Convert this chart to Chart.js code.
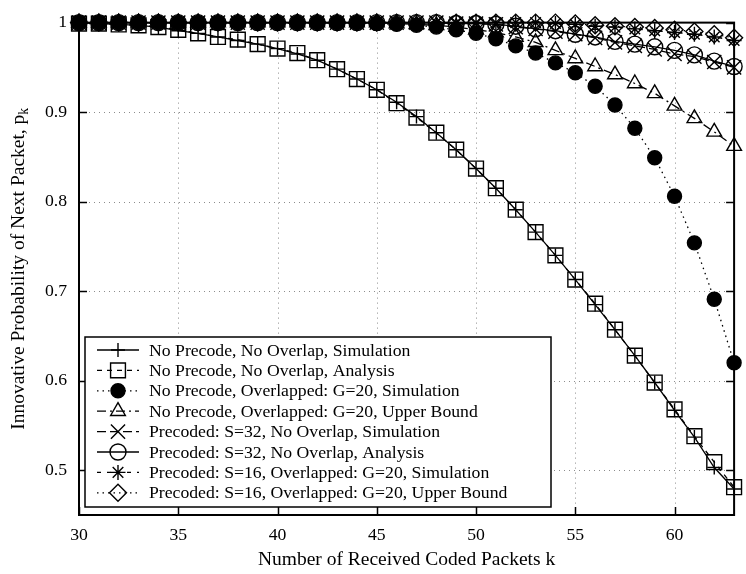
<!DOCTYPE html>
<html>
<head>
<meta charset="utf-8">
<script src="https://cdn.jsdelivr.net/npm/chart.js@4.4.1/dist/chart.umd.min.js"></script>
<style>
  html, body { margin: 0; padding: 0; background: #ffffff; }
  #wrap { width: 746px; height: 574px; }
</style>
</head>
<body>
<div id="wrap"><canvas id="main-chart" width="746" height="574"></canvas></div>
<script>
const ks = [30, 31, 32, 33, 34, 35, 36, 37, 38, 39, 40, 41, 42, 43, 44, 45, 46,
  47, 48, 49, 50, 51, 52, 53, 54, 55, 56, 57, 58, 59, 60, 61, 62, 63];

const noOverlapSim = [1.000, 0.999, 0.998, 0.997, 0.995, 0.991, 0.988, 0.984, 0.980, 0.976,
  0.971, 0.965, 0.958, 0.948, 0.937, 0.925, 0.911, 0.895, 0.877, 0.858,
  0.837, 0.815, 0.791, 0.766, 0.740, 0.713, 0.685, 0.657, 0.628, 0.598,
  0.567, 0.537, 0.503, 0.479];
const noOverlapAna = [0.999, 0.999, 0.998, 0.997, 0.995, 0.992, 0.988, 0.984, 0.981, 0.976,
  0.971, 0.966, 0.958, 0.948, 0.937, 0.925, 0.910, 0.894, 0.877, 0.858,
  0.837, 0.815, 0.791, 0.766, 0.740, 0.713, 0.686, 0.657, 0.628, 0.598,
  0.568, 0.538, 0.509, 0.481];
const overlapSim = [1, 1, 1, 1, 1, 1, 1, 1, 1, 1, 1, 1, 1, 1, 1,
  0.999, 0.998, 0.997, 0.995, 0.992, 0.988, 0.982, 0.974, 0.966, 0.955,
  0.944, 0.929, 0.908, 0.882, 0.849, 0.806, 0.754, 0.691, 0.620];
const overlapBound = [1, 1, 1, 1, 1, 1, 1, 1, 1, 1, 1, 1, 1, 1, 1, 1,
  0.999, 0.998, 0.997, 0.995, 0.992, 0.989, 0.984, 0.978, 0.969, 0.960,
  0.951, 0.942, 0.932, 0.921, 0.907, 0.893, 0.878, 0.862];
const precodedSim = [1, 1, 1, 1, 1, 1, 1, 1, 1, 1, 1, 1, 1, 1, 1, 1, 1, 1, 1,
  0.999, 0.999, 0.998, 0.995, 0.993, 0.990, 0.987, 0.983, 0.978, 0.974,
  0.970, 0.965, 0.962, 0.956, 0.950];
const precodedAna = [1, 1, 1, 1, 1, 1, 1, 1, 1, 1, 1, 1, 1, 1, 1, 1, 1, 1, 1,
  0.999, 0.999, 0.998, 0.996, 0.993, 0.991, 0.987, 0.984, 0.979, 0.976,
  0.973, 0.969, 0.964, 0.957, 0.951];
const pre16Sim = [1, 1, 1, 1, 1, 1, 1, 1, 1, 1, 1, 1, 1, 1, 1, 1, 1, 1, 1, 1, 1, 1, 1, 1,
  0.999, 0.998, 0.996, 0.995, 0.993, 0.991, 0.989, 0.987, 0.984, 0.980];
const pre16Bound = [1, 1, 1, 1, 1, 1, 1, 1, 1, 1, 1, 1, 1, 1, 1, 1, 1, 1, 1, 1, 1, 1, 1, 1, 1,
  0.999, 0.997, 0.996, 0.995, 0.994, 0.992, 0.990, 0.987, 0.983];

const seriesLabels = [
  "No Precode, No Overlap, Simulation",
  "No Precode, No Overlap, Analysis",
  "No Precode, Overlapped: G=20, Simulation",
  "No Precode, Overlapped: G=20, Upper Bound",
  "Precoded: S=32, No Overlap, Simulation",
  "Precoded: S=32, No Overlap, Analysis",
  "Precoded: S=16, Overlapped: G=20, Simulation",
  "Precoded: S=16, Overlapped: G=20, Upper Bound",
];

const xTicks = [30, 35, 40, 45, 50, 55, 60];
const yTicks = [0.5, 0.6, 0.7, 0.8, 0.9, 1];

const FONT = "'Liberation Serif', 'Times New Roman', serif";
const FONT_SIZE = 17.7;
const TITLE_SIZE = 19.5;

// line style + marker of each curve (gnuplot-ish)
const styles = [
  { dash: [], point: "cross", r: 7, fill: "rgba(0,0,0,0)" },
  { dash: [5, 5], point: "rect", r: 10.5, fill: "rgba(0,0,0,0)" },
  { dash: [1.5, 4], point: "circle", r: 7, fill: "#000" },
  { dash: [9, 4, 2, 4], point: "triangle", r: 8.5, fill: "rgba(0,0,0,0)" },
  { dash: [9, 4], point: "crossRot", r: 10, fill: "rgba(0,0,0,0)" },
  { dash: [], point: "circle", r: 8, fill: "rgba(0,0,0,0)" },
  { dash: [4, 6], point: "star", r: 7.5, fill: "rgba(0,0,0,0)" },
  { dash: [1.5, 4], point: "rectRot", r: 8.5, fill: "rgba(0,0,0,0)" },
];

const allSeries = [noOverlapSim, noOverlapAna, overlapSim, overlapBound,
  precodedSim, precodedAna, pre16Sim, pre16Bound];

const datasets = allSeries.map((vals, i) => ({
  label: seriesLabels[i],
  data: ks.map((k, j) => ({ x: k, y: vals[j] })),
  borderColor: "#000",
  borderWidth: 1.3,
  borderDash: styles[i].dash,
  pointStyle: styles[i].point,
  pointRadius: styles[i].r,
  pointHoverRadius: styles[i].r,
  pointBorderColor: "#000",
  pointBorderWidth: 1.4,
  pointBackgroundColor: styles[i].fill,
  tension: 0,
  fill: false,
  clip: false,
  order: allSeries.length - i, // later curves on top, like gnuplot
}));

// same shapes as Chart.js drawPoint, for the legend samples
function drawMarker(ctx, style, x, y, r, fill) {
  ctx.beginPath();
  if (style === "circle") {
    ctx.arc(x, y, r, 0, Math.PI * 2);
    ctx.closePath();
  } else if (style === "rect") {
    const s = Math.SQRT1_2 * r;
    ctx.rect(x - s, y - s, 2 * s, 2 * s);
  } else if (style === "rectRot") {
    ctx.moveTo(x - r, y);
    ctx.lineTo(x, y - r);
    ctx.lineTo(x + r, y);
    ctx.lineTo(x, y + r);
    ctx.closePath();
  } else if (style === "triangle") {
    ctx.moveTo(x, y - r);
    ctx.lineTo(x + 0.866 * r, y + 0.5 * r);
    ctx.lineTo(x - 0.866 * r, y + 0.5 * r);
    ctx.closePath();
  }
  if (style === "cross" || style === "star") {
    ctx.moveTo(x, y - r); ctx.lineTo(x, y + r);
    ctx.moveTo(x - r, y); ctx.lineTo(x + r, y);
  }
  if (style === "crossRot" || style === "star") {
    const d = Math.SQRT1_2 * r;
    ctx.moveTo(x - d, y - d); ctx.lineTo(x + d, y + d);
    ctx.moveTo(x - d, y + d); ctx.lineTo(x + d, y - d);
  }
  if (fill && fill !== "rgba(0,0,0,0)") {
    ctx.fillStyle = fill;
    ctx.fill();
  }
  ctx.stroke();
}

const framePlugin = {
  id: "frame",
  beforeDatasetsDraw(chart) {
    const { ctx, chartArea: a } = chart;
    const xs = chart.scales.x, ys = chart.scales.y;
    ctx.save();
    ctx.strokeStyle = "#8c8c8c";
    ctx.lineWidth = 1;
    ctx.setLineDash([1, 4]);
    xTicks.forEach((v) => {
      if (v <= xs.min || v >= xs.max) return;
      const px = Math.round(xs.getPixelForValue(v)) + 0.5;
      ctx.beginPath(); ctx.moveTo(px, a.top); ctx.lineTo(px, a.bottom); ctx.stroke();
    });
    yTicks.forEach((v) => {
      if (v <= ys.min || v >= ys.max) return;
      const py = Math.round(ys.getPixelForValue(v)) + 0.5;
      ctx.beginPath(); ctx.moveTo(a.left, py); ctx.lineTo(a.right, py); ctx.stroke();
    });
    ctx.setLineDash([]);
    ctx.strokeStyle = "#000";
    ctx.lineWidth = 1.5;
    const tl = 8;
    xTicks.forEach((v) => {
      const px = Math.round(xs.getPixelForValue(v)) + 0.5;
      ctx.beginPath();
      ctx.moveTo(px, a.bottom); ctx.lineTo(px, a.bottom - tl);
      ctx.moveTo(px, a.top); ctx.lineTo(px, a.top + tl);
      ctx.stroke();
    });
    yTicks.forEach((v) => {
      const py = Math.round(ys.getPixelForValue(v)) + 0.5;
      ctx.beginPath();
      ctx.moveTo(a.left, py); ctx.lineTo(a.left + tl, py);
      ctx.moveTo(a.right, py); ctx.lineTo(a.right - tl, py);
      ctx.stroke();
    });
    ctx.lineWidth = 2;
    ctx.strokeRect(a.left, a.top, a.right - a.left, a.bottom - a.top);
    ctx.restore();
  },
};

const legendPlugin = {
  id: "boxLegend",
  afterDatasetsDraw(chart) {
    const { ctx, chartArea: a } = chart;
    const box = { x: a.left + 6, y: 337, w: 466, h: 170 };
    ctx.save();
    ctx.fillStyle = "#fff";
    ctx.fillRect(box.x, box.y, box.w, box.h);
    ctx.strokeStyle = "#000";
    ctx.lineWidth = 1.5;
    ctx.strokeRect(box.x, box.y, box.w, box.h);
    ctx.font = FONT_SIZE + "px " + FONT;
    ctx.textBaseline = "middle";
    ctx.textAlign = "left";
    chart.data.datasets.forEach((ds, i) => {
      const cy = box.y + 13 + i * 20.4;
      ctx.strokeStyle = "#000";
      ctx.lineWidth = 1.3;
      ctx.setLineDash(ds.borderDash);
      ctx.beginPath(); ctx.moveTo(box.x + 12, cy); ctx.lineTo(box.x + 54, cy); ctx.stroke();
      ctx.setLineDash([]);
      ctx.lineWidth = 1.4;
      drawMarker(ctx, ds.pointStyle, box.x + 33, cy, ds.pointRadius, ds.pointBackgroundColor);
      ctx.fillStyle = "#000";
      ctx.fillText(ds.label, box.x + 64, cy + 1);
    });
    ctx.restore();
  },
};

const yTitlePlugin = {
  id: "yTitle",
  afterDraw(chart) {
    const { ctx, chartArea: a } = chart;
    const main = "Innovative Probability of Next Packet, p";
    ctx.save();
    ctx.fillStyle = "#000";
    ctx.font = TITLE_SIZE + "px " + FONT;
    const w1 = ctx.measureText(main).width;
    ctx.font = (TITLE_SIZE * 0.7) + "px " + FONT;
    const w2 = ctx.measureText("k").width;
    ctx.translate(19, (a.top + a.bottom) / 2);
    ctx.rotate(-Math.PI / 2);
    ctx.textBaseline = "middle";
    ctx.textAlign = "left";
    const x0 = -(w1 + w2) / 2;
    ctx.font = TITLE_SIZE + "px " + FONT;
    ctx.fillText(main, x0, 0);
    ctx.font = (TITLE_SIZE * 0.7) + "px " + FONT;
    ctx.fillText("k", x0 + w1, 5);
    ctx.restore();
  },
};

const mainChart = document.getElementById("main-chart").getContext("2d");

const chartConfig = {
  type: "line",
  data: { datasets: datasets },
  options: {
    responsive: false,
    animation: false,
    devicePixelRatio: 1,
    layout: { padding: { top: 19, right: 3, bottom: 0, left: 0 } },
    plugins: {
      legend: { display: false },
      tooltip: { enabled: false },
    },
    scales: {
      x: {
        type: "linear",
        min: 30,
        max: 63,
        grid: { display: false, drawTicks: false },
        border: { display: false },
        afterBuildTicks: (scale) => { scale.ticks = xTicks.map((v) => ({ value: v })); },
        afterFit: (scale) => { scale.height = 59; },
        ticks: {
          color: "#000",
          padding: 10,
          maxRotation: 0,
          font: { family: FONT, size: FONT_SIZE },
          callback: (v) => String(v),
        },
        title: {
          display: true,
          text: "Number of Received Coded Packets k",
          color: "#000",
          font: { family: FONT, size: TITLE_SIZE },
          padding: { top: 0, bottom: 2 },
        },
      },
      y: {
        type: "linear",
        min: 0.45,
        max: 1,
        grid: { display: false, drawTicks: false },
        border: { display: false },
        afterBuildTicks: (scale) => { scale.ticks = yTicks.map((v) => ({ value: v })); },
        afterFit: (scale) => { scale.width = 79; },
        ticks: {
          color: "#000",
          padding: 12,
          font: { family: FONT, size: FONT_SIZE },
          callback: (v) => (v === 1 ? "1" : v.toFixed(1)),
        },
      },
    },
  },
  plugins: [framePlugin, legendPlugin, yTitlePlugin],
};

window.bread = new Chart(mainChart, chartConfig);
</script>
</body>
</html>
